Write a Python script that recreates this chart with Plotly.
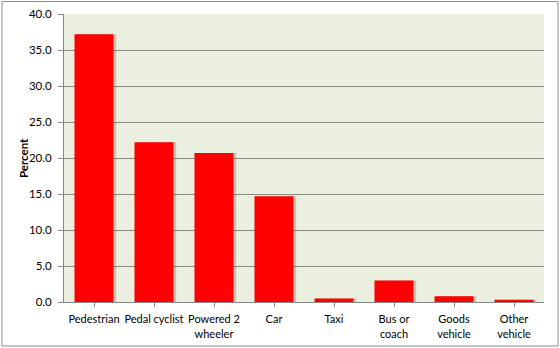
import plotly.graph_objects as go

categories = ["Pedestrian", "Pedal cyclist", "Powered 2<br>wheeler", "Car", "Taxi",
              "Bus or<br>coach", "Goods<br>vehicle", "Other<br>vehicle"]
percent = [37.2, 22.2, 20.7, 14.7, 0.5, 3.0, 0.8, 0.3]
y_ticks = [0, 5, 10, 15, 20, 25, 30, 35, 40]
y_tick_labels = [f"{v:.1f}" for v in y_ticks]

L, R, T, B = 64, 16, 14, 46
W, H = 560, 348
pw, ph = W - L - R, H - T - B

fig = go.Figure()
# soft shadow
fig.add_trace(go.Bar(
    x=list(range(len(categories))), y=percent, width=0.65, offset=-0.325 + 0.045,
    marker=dict(color="rgba(90,90,70,0.28)", line=dict(width=0)),
    hoverinfo="skip", showlegend=False,
))
fig.add_trace(go.Bar(
    x=list(range(len(categories))), y=percent, width=0.65, offset=-0.325,
    marker=dict(color="#FF0000", line=dict(width=0)),
    showlegend=False,
))

fig.update_layout(
    width=W, height=H,
    margin=dict(l=L, r=R, t=T, b=B, autoexpand=False),
    paper_bgcolor="white",
    plot_bgcolor="#EBEFDF",
    barmode="overlay",
    font=dict(family="Lato, Liberation Sans, Arial, sans-serif", size=11.5, color="#000000"),
    xaxis=dict(
        tickmode="array", tickvals=list(range(len(categories))), ticktext=categories,
        range=[-0.5, len(categories) - 0.5], tickangle=0,
        showgrid=False, zeroline=False, automargin=False,
        showline=True, linecolor="#868686", linewidth=1,
        ticks="outside", ticklen=4, tickcolor="#868686",
        tickson="boundaries", ticklabelstandoff=3,
        tickfont=dict(size=11),
    ),
    yaxis=dict(
        range=[0, 40], tickmode="array", tickvals=y_ticks, ticktext=y_tick_labels,
        showgrid=True, gridcolor="#8A8A82", gridwidth=1,
        zeroline=False, automargin=False,
        showline=True, linecolor="#868686", linewidth=1,
        ticks="outside", ticklen=5, tickcolor="#868686",
        ticklabelstandoff=4,
    ),
    annotations=[dict(
        text="<b>Percent</b>", xref="paper", yref="paper",
        x=(23 - L) / pw, y=0.5, textangle=-90, showarrow=False,
        xanchor="center", yanchor="middle", font=dict(size=11.5),
    )],
    shapes=[dict(
        type="rect", xref="paper", yref="paper",
        x0=(2 - L) / pw, x1=(558 - L) / pw,
        y0=(H - B - 346) / ph, y1=(H - B - 1.5) / ph,
        line=dict(color="#8C8C8C", width=1), fillcolor="rgba(0,0,0,0)", layer="below",
    )],
)

fig.write_html("out.html")
